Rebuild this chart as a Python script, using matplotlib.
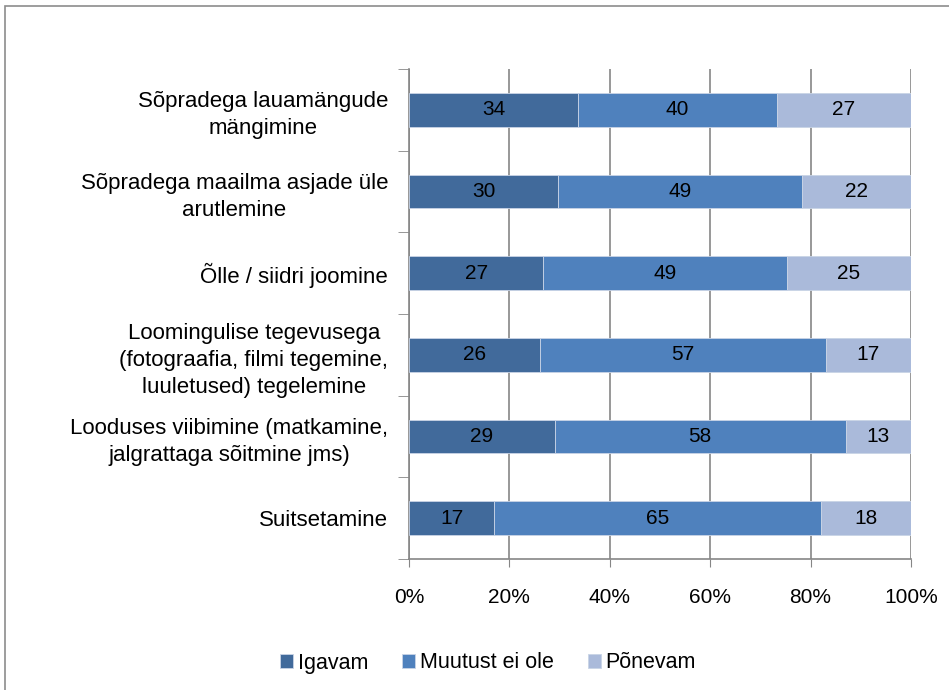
import numpy as np
import matplotlib.pyplot as plt
from matplotlib.patches import Rectangle

plt.rcParams['font.family'] = ['Liberation Sans', 'DejaVu Sans']

# Data
categories = [
    "Sõpradega lauamängude\nmängimine",
    "Sõpradega maailma asjade üle\narutlemine",
    "Õlle / siidri joomine",
    "Loomingulise tegevusega\n(fotograafia, filmi tegemine,\nluuletused) tegelemine",
    "Looduses viibimine (matkamine,\njalgrattaga sõitmine jms)",
    "Suitsetamine",
]
igavam = [34, 30, 27, 26, 29, 17]
muutust = [40, 49, 49, 57, 58, 65]
ponevam = [27, 22, 25, 17, 13, 18]
series_names = ["Igavam", "Muutust ei ole", "Põnevam"]
colors = ["#416A9B", "#4F81BD", "#AABADA"]

data = np.array([igavam, muutust, ponevam], dtype=float)
totals = data.sum(axis=0)
shares = data / totals * 100

fig = plt.figure(figsize=(9.49, 6.9), dpi=100)
ax = fig.add_axes([409 / 949, 1 - 559 / 690, 502 / 949, 490 / 690])

y = np.arange(len(categories))
left = np.zeros(len(categories))
for vals, share, name, col in zip(data, shares, series_names, colors):
    ax.barh(y, share, left=left, height=0.41, color=col, label=name,
            edgecolor="#C9D4E6", linewidth=0.6, zorder=3)
    for yi, l, s, v in zip(y, left, share, vals):
        ax.text(l + s / 2, yi, f"{int(v)}", ha="center", va="center",
                fontsize=15, color="black", zorder=4)
    left += share

ax.set_xlim(0, 100)
ax.set_ylim(len(categories) - 0.5, -0.5)
ax.set_xticks(np.arange(0, 101, 20))
ax.set_xticklabels([f"{v}%" for v in range(0, 101, 20)], fontsize=15)
ax.tick_params(axis="x", length=6, color="#868686", pad=15)
ax.xaxis.grid(True, color="#868686", linewidth=1.2, zorder=0)

ax.set_yticks(y)
ax.set_yticklabels(categories, fontsize=16, linespacing=1.38)
for t in ax.get_yticklabels():
    t.set_multialignment("center")
ax.tick_params(axis="y", length=0, pad=15)
ax.set_yticks(np.arange(-0.5, len(categories), 1), minor=True)
ax.tick_params(axis="y", which="minor", length=8, color="#868686")

for s in ["top", "right"]:
    ax.spines[s].set_visible(False)
for s in ["left", "bottom"]:
    ax.spines[s].set_color("#868686")
    ax.spines[s].set_linewidth(1.2)

fig.legend(loc="center", bbox_to_anchor=(488 / 949, 1 - 663 / 690), ncol=3,
           frameon=False, fontsize=15.5, handlelength=0.6, handleheight=0.6,
           handletextpad=0.2, columnspacing=1.6)

fig.patches.append(Rectangle((5 / 949, -0.02), 1.0, 1 - 6 / 690 + 0.02,
                             transform=fig.transFigure, fill=False,
                             edgecolor="#8C8C8C", linewidth=1.2))

fig.savefig("out.png", dpi=100)
